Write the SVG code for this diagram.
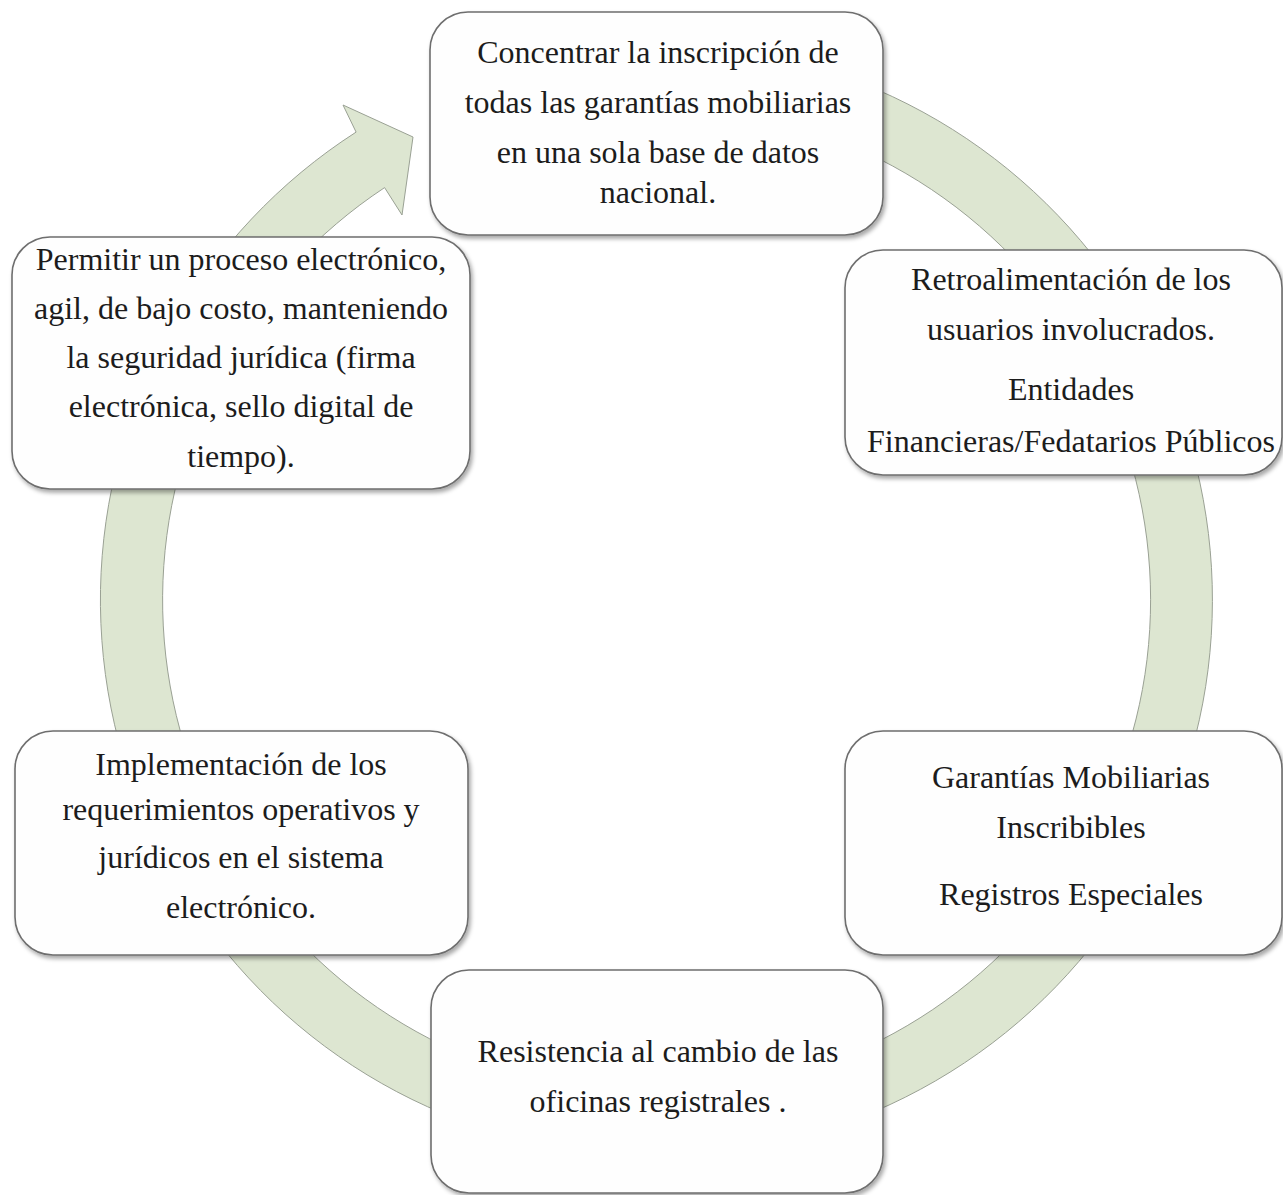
<svg xmlns="http://www.w3.org/2000/svg" width="1283" height="1195" viewBox="0 0 1283 1195">
  <defs>
    <filter id="sh" x="-5%" y="-5%" width="112%" height="115%">
      <feDropShadow dx="2" dy="3" stdDeviation="2.2" flood-color="#000" flood-opacity="0.35"/>
    </filter>
  </defs>
  <style>
    .box { fill: #fefefe; stroke: #6e6e6e; stroke-width: 1.6; filter: url(#sh); }
    .t { font-family: "Liberation Serif", "Times New Roman", serif; font-size: 32px; fill: #1c1c1c; text-anchor: middle; }
    .ring { fill: #dde6d1; stroke: #9aa194; stroke-width: 1; }
  </style>
  <rect width="1283" height="1195" fill="#ffffff"/>

  <g id="connectors">
    <path class="ring" d="M 559.95 52.45 A 556 556 0 1 1 356.1 132.1 L 343 105 L 413 137 L 402 215 L 384.6 187.6 A 494 494 0 1 0 570.7 113.5 Z"/>
  </g>

  <g id="node-concentrar">
    <rect class="box" x="430" y="12" width="453" height="223" rx="38" ry="38"/>
    <text class="t" x="658" y="63">Concentrar la inscripción de</text>
    <text class="t" x="658" y="113">todas las garantías mobiliarias</text>
    <text class="t" x="658" y="163">en una sola base de datos</text>
    <text class="t" x="658" y="203">nacional.</text>
  </g>

  <g id="node-retroalimentacion">
    <rect class="box" x="845" y="250" width="437" height="225" rx="38" ry="38"/>
    <text class="t" x="1071" y="290">Retroalimentación de los</text>
    <text class="t" x="1071" y="340">usuarios involucrados.</text>
    <text class="t" x="1071" y="400">Entidades</text>
    <text class="t" x="1071" y="452">Financieras/Fedatarios Públicos</text>
  </g>

  <g id="node-garantias">
    <rect class="box" x="845" y="731" width="437" height="224" rx="38" ry="38"/>
    <text class="t" x="1071" y="788">Garantías Mobiliarias</text>
    <text class="t" x="1071" y="838">Inscribibles</text>
    <text class="t" x="1071" y="905">Registros Especiales</text>
  </g>

  <g id="node-resistencia">
    <rect class="box" x="431" y="970" width="452" height="223" rx="38" ry="38"/>
    <text class="t" x="658" y="1062">Resistencia al cambio de las</text>
    <text class="t" x="658" y="1112">oficinas registrales .</text>
  </g>

  <g id="node-implementacion">
    <rect class="box" x="15" y="731" width="453" height="224" rx="38" ry="38"/>
    <text class="t" x="241" y="775">Implementación de los</text>
    <text class="t" x="241" y="820">requerimientos operativos y</text>
    <text class="t" x="241" y="868">jurídicos en el sistema</text>
    <text class="t" x="241" y="918">electrónico.</text>
  </g>

  <g id="node-permitir">
    <rect class="box" x="12" y="237" width="458" height="252" rx="38" ry="38"/>
    <text class="t" x="241" y="270">Permitir un proceso electrónico,</text>
    <text class="t" x="241" y="319">agil, de bajo costo, manteniendo</text>
    <text class="t" x="241" y="368">la seguridad jurídica (firma</text>
    <text class="t" x="241" y="417">electrónica, sello digital de</text>
    <text class="t" x="241" y="467">tiempo).</text>
  </g>
</svg>
